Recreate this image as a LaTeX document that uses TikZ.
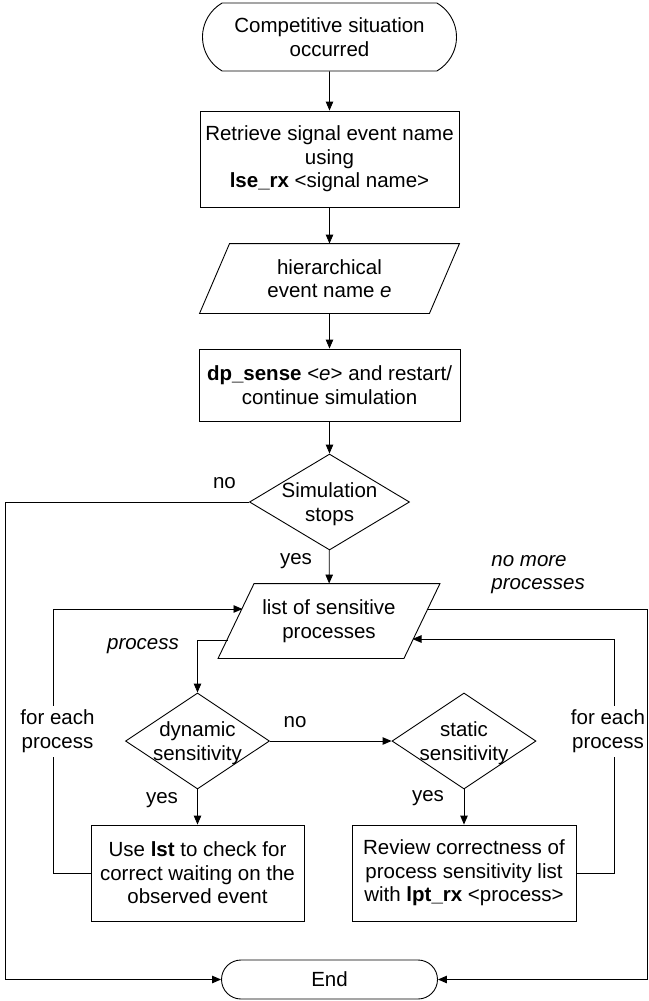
\documentclass[tikz,border=0pt]{standalone}
\usepackage{fontspec}
\setmainfont{Liberation Sans}
\usetikzlibrary{shapes.geometric,shapes.misc,arrows.meta}
\begin{document}
\begin{tikzpicture}[x=1pt,y=-1pt,
  font=\fontsize{20.5}{23.5}\selectfont,
  line width=0.9pt,
  >={Triangle[length=9pt,width=7.5pt]},
  boxst/.style={draw, rectangle, align=center, inner sep=2pt},
  termst/.style={draw, rounded rectangle, align=center, inner sep=3pt},
  diast/.style={draw, diamond, inner sep=0pt},
  parast/.style={rectangle, align=center, inner sep=0pt},
  txtst/.style={align=center, inner sep=0pt},
  labst/.style={inner sep=0pt, align=center},
  wlabst/.style={inner sep=0pt, align=center, fill=white, minimum height=51pt}
]
\useasboundingbox (0,0) rectangle (648,1001);

% main column
\node[termst, rounded rectangle arc length=120, minimum width=260pt, minimum height=68pt] (s) at (329.5,37) {Competitive situation\\occurred};
\node[boxst, minimum width=259pt, minimum height=96pt] (b1) at (329.5,159) {Retrieve signal event name\\using\\\textbf{lse\_rx} <signal name>};
\node[parast, minimum width=229pt, minimum height=69pt] (p1) at (329.5,278.5) {hierarchical\\event name \textit{e}};
\draw ([xshift=15pt]p1.north west) -- ([xshift=15pt]p1.north east) -- ([xshift=-15pt]p1.south east) -- ([xshift=-15pt]p1.south west) -- cycle;
\node[boxst, minimum width=261pt, minimum height=72pt] (b2) at (329.5,385) {\textbf{dp\_sense} <\textit{e}> and restart/\\continue simulation};
\node[diast, minimum width=160pt, minimum height=96pt] (d1) at (329.5,502) {};
\node[txtst] (d1t) at (329.5,504) {Simulation\\stops};
\node[parast, minimum width=185pt, minimum height=74pt] (p2) at (329,621) {list of sensitive\\processes};
\draw ([xshift=18pt]p2.north west) -- ([xshift=18pt]p2.north east) -- ([xshift=-18pt]p2.south east) -- ([xshift=-18pt]p2.south west) -- cycle;

% branches
\node[diast, minimum width=144pt, minimum height=96pt] (d2) at (197.5,741) {};
\node[txtst] (d2t) at (197.5,743) {dynamic\\sensitivity};
\node[diast, minimum width=144pt, minimum height=96pt] (d3) at (464,741) {};
\node[txtst] (d3t) at (464,743) {static\\sensitivity};
\node[boxst, minimum width=213pt, minimum height=96pt] (b3) at (197.5,873) {Use \textbf{lst} to check for\\correct waiting on the\\observed event};
\node[boxst, minimum width=224pt, minimum height=96pt] (b4) at (464,873) {Review correctness of\\process sensitivity list\\with \textbf{lpt\_rx} <process>};
\node[termst, minimum width=222pt, minimum height=39pt] (e) at (329.5,979.5) {End};

% helper coordinates
\coordinate (xL) at (5,0);
\coordinate (xR) at (647,0);
\coordinate (xLL) at (53,0);
\coordinate (xRR) at (614,0);
\coordinate (p2iL) at (242.5,609);
\coordinate (p2oR) at (427.5,609);
\coordinate (p2iR) at (412.5,639);
\coordinate (p2oL) at (227.5,640);

% connectors
\draw[->] (s) -- (b1);
\draw[->] (b1) -- (p1);
\draw[->] (p1) -- (b2);
\draw[->] (b2) -- (d1);
\draw[->] (d1) -- (p2);
\draw[->] (d1.west) -- (xL |- d1.west) -- (xL |- e.west) -- (e.west);
\draw[->] (p2oR) -- (xR |- p2oR) -- (xR |- e.east) -- (e.east);
\draw[->] (b3.west) -- (xLL |- b3.west) -- (xLL |- p2iL) -- (p2iL);
\draw[->] (b4.east) -- (xRR |- b4.east) -- (xRR |- p2iR) -- (p2iR);
\draw[->] (p2oL) -- (d2.north |- p2oL) -- (d2.north);
\draw[->] (d2.east) -- (d3.west);
\draw[->] (d2) -- (b3);
\draw[->] (d3) -- (b4);

% labels
\node[labst] (lno1) at (224.5,483) {no};
\node[labst] (lyes1) at (296,561) {yes};
\node[labst, anchor=west, align=left] (lnomore) at (491,574.5) {\textit{no more}\\\textit{processes}};
\node[labst] (lproc) at (143,646) {\textit{process}};
\node[labst] (lno2) at (295,722) {no};
\node[labst] (lyes2) at (162,800) {yes};
\node[labst] (lyes3) at (428,798) {yes};
\node[wlabst] (lfe1) at (57.5,731) {for each\\process};
\node[wlabst] (lfe2) at (608,731) {for each\\process};
\end{tikzpicture}
\end{document}
